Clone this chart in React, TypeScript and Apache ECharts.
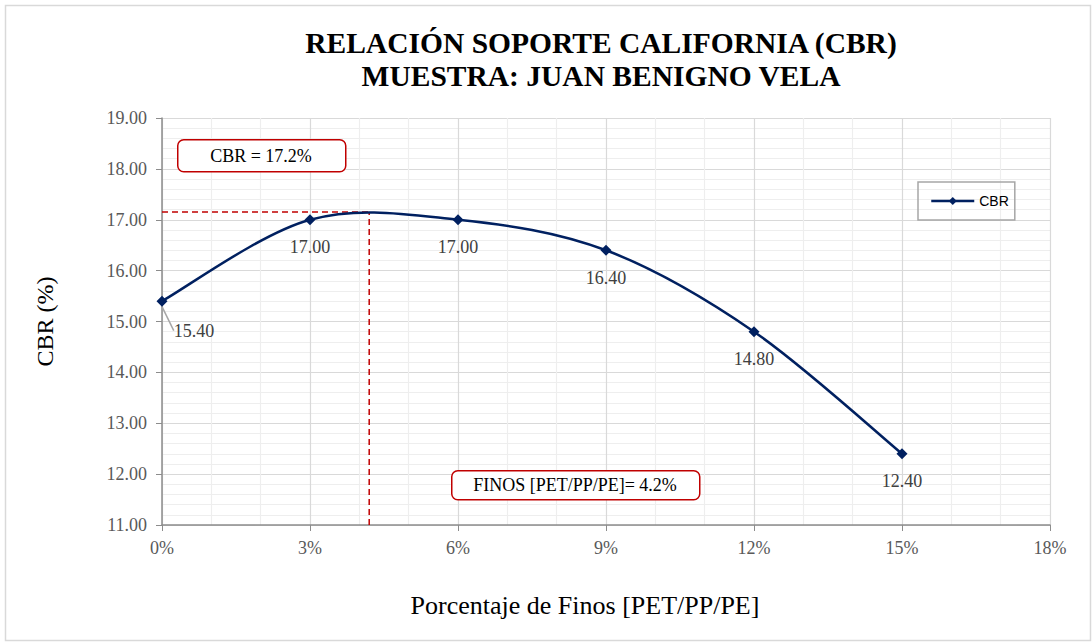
import React, { useEffect, useRef } from "react";
import * as echarts from "echarts";

const finesPct = [0, 3, 6, 9, 12, 15];
const cbrValues = [15.4, 17.0, 17.0, 16.4, 14.8, 12.4];
const cbrMax = 17.15;
const optFines = 4.2;
const titleLines = ["RELACIÓN SOPORTE CALIFORNIA (CBR)", "MUESTRA: JUAN BENIGNO VELA"];
const cbrBoxText = "CBR = 17.2%";
const finesBoxText = "FINOS [PET/PP/PE]= 4.2%";

const SERIF = "Liberation Serif";
const NAVY = "#002060";
const RED = "#c00000";

export default function App() {
  const ref = useRef<HTMLDivElement>(null);
  useEffect(() => {
    document.body.style.margin = "0";
    const chart = echarts.init(ref.current!, undefined, { renderer: "svg" });
    const points = finesPct.map((x, i) => [x, cbrValues[i]]);
    chart.setOption({
      animation: false,
      backgroundColor: "#ffffff",
      title: {
        text: titleLines.join("\n"),
        left: 596,
        top: 21,
        textAlign: "center",
        textStyle: {
          fontFamily: SERIF,
          fontWeight: "bold",
          fontSize: 29.5,
          lineHeight: 33,
          color: "#000000",
        },
      },
      legend: {
        data: ["CBR"],
        left: 918,
        top: 182,
        itemWidth: 43,
        itemHeight: 10,
        padding: [12, 6, 12, 12],
        borderColor: "#a6a6a6",
        borderWidth: 1.5,
        lineStyle: { color: NAVY, width: 2.5, opacity: 1 },
        textStyle: { fontFamily: "Liberation Sans", fontSize: 14, color: "#000" },
        itemGap: 4,
      },
      grid: { left: 162, right: 42, top: 118, bottom: 117, containLabel: false },
      xAxis: {
        type: "value",
        min: 0,
        max: 18,
        interval: 3,
        name: "Porcentaje de Finos [PET/PP/PE]",
        nameLocation: "middle",
        nameGap: 67,
        nameTextStyle: { fontFamily: SERIF, fontSize: 26, color: "#000", padding: [0, 42, 0, 0] },
        axisLine: { show: true, lineStyle: { color: "#8c8c8c", width: 1.5 } },
        axisTick: { show: true, length: 6, lineStyle: { color: "#8c8c8c" } },
        axisLabel: {
          formatter: (v: number) => `${v}%`,
          fontFamily: SERIF,
          fontSize: 18,
          color: "#595959",
          margin: 14,
        },
        splitLine: { show: true, lineStyle: { color: "#d9d9d9", width: 1.2 } },
        minorTick: { show: false, splitNumber: 3 },
        minorSplitLine: { show: true, lineStyle: { color: "#eeeeee", width: 1.2 } },
      },
      yAxis: {
        type: "value",
        min: 11,
        max: 19,
        interval: 1,
        name: "CBR (%)",
        nameLocation: "middle",
        nameGap: 105,
        nameTextStyle: { fontFamily: SERIF, fontSize: 24, color: "#000" },
        axisLine: { show: true, lineStyle: { color: "#8c8c8c", width: 1.5 } },
        axisTick: { show: true, length: 6, lineStyle: { color: "#8c8c8c" } },
        axisLabel: {
          formatter: (v: number) => v.toFixed(2),
          fontFamily: SERIF,
          fontSize: 18,
          color: "#595959",
          margin: 15,
        },
        splitLine: { show: true, lineStyle: { color: "#d9d9d9", width: 1.2 } },
        minorTick: { show: false, splitNumber: 5 },
        minorSplitLine: { show: true, lineStyle: { color: "#eeeeee", width: 1.2 } },
      },
      graphic: [
        {
          type: "rect",
          left: 3,
          top: 3,
          shape: { width: 1085, height: 635 },
          style: { fill: "none", stroke: "#d9d9d9", lineWidth: 1.5 },
          silent: true,
          z: -1,
        },
        {
          type: "rect",
          left: 177,
          top: 139,
          z: 100,
          shape: { width: 168, height: 32, r: 6 },
          style: { fill: "#ffffff", stroke: RED, lineWidth: 1.5 },
        },
        {
          type: "text",
          x: 177 + 84,
          y: 139 + 17,
          z: 101,
          style: {
            text: cbrBoxText,
            fontFamily: SERIF,
            fontSize: 18,
            fill: "#000",
            align: "center",
            verticalAlign: "middle",
          },
        },
        {
          type: "rect",
          left: 451,
          top: 470,
          z: 100,
          shape: { width: 248, height: 29, r: 6 },
          style: { fill: "#ffffff", stroke: RED, lineWidth: 1.5 },
        },
        {
          type: "text",
          x: 451 + 124,
          y: 470 + 15,
          z: 101,
          style: {
            text: finesBoxText,
            fontFamily: SERIF,
            fontSize: 18,
            fill: "#000",
            align: "center",
            verticalAlign: "middle",
          },
        },
      ],
      series: [
        {
          name: "guideH",
          type: "line",
          data: [
            [0, cbrMax],
            [optFines, cbrMax],
          ],
          symbol: "none",
          lineStyle: { color: RED, width: 1.5, type: [6, 4] },
          silent: true,
          z: 1,
        },
        {
          name: "guideV",
          type: "line",
          data: [
            [optFines, 11],
            [optFines, cbrMax],
          ],
          symbol: "none",
          lineStyle: { color: RED, width: 1.5, type: [6, 4] },
          silent: true,
          z: 1,
        },
        {
          name: "curve",
          type: "custom",
          data: points,
          silent: true,
          z: 3,
          renderItem: (params: any, api: any) => {
            const i = params.dataIndex;
            const n = points.length;
            if (i >= n - 1) return null;
            const px = points.map((p) => api.coord(p));
            const p0 = px[Math.max(i - 1, 0)];
            const p1 = px[i];
            const p2 = px[i + 1];
            const p3 = px[Math.min(i + 2, n - 1)];
            const k = 1 / 6;
            return {
              type: "bezierCurve",
              shape: {
                x1: p1[0],
                y1: p1[1],
                x2: p2[0],
                y2: p2[1],
                cpx1: p1[0] + (p2[0] - p0[0]) * k,
                cpy1: p1[1] + (p2[1] - p0[1]) * k,
                cpx2: p2[0] - (p3[0] - p1[0]) * k,
                cpy2: p2[1] - (p3[1] - p1[1]) * k,
              },
              style: { stroke: NAVY, lineWidth: 2.5, fill: "none" },
            };
          },
        },
        {
          name: "CBR",
          type: "line",
          data: points.map((p, i) => ({
            value: p,
            labelLine: { show: i === 0 },
          })),
          symbol: "diamond",
          symbolSize: 11,
          itemStyle: { color: NAVY },
          lineStyle: { color: NAVY, width: 2.5, opacity: 0 },
          z: 5,
          label: {
            show: true,
            position: "bottom",
            distance: 13,
            formatter: (p: any) => p.value[1].toFixed(2),
            fontFamily: SERIF,
            fontSize: 18,
            color: "#404040",
          },
          labelLine: { show: false, lineStyle: { color: "#a6a6a6", width: 1.5 } },
          labelLayout: (params: any) =>
            params.dataIndex === 0 ? { dx: 32, dy: 2 } : {},
        },
      ],
    });
    return () => chart.dispose();
  }, []);
  return <div ref={ref} style={{ width: 1092, height: 642 }} />;
}
